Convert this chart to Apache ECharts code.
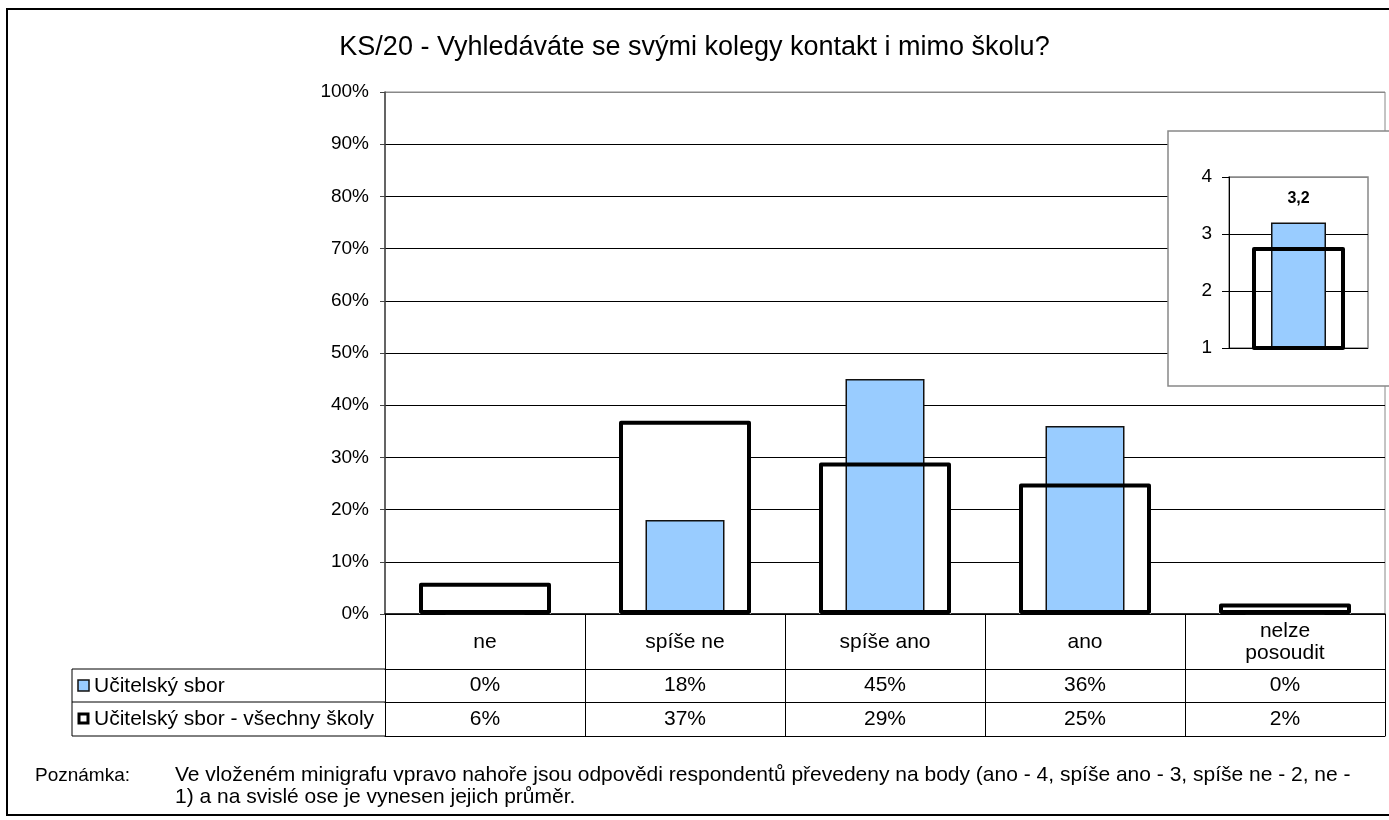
<!DOCTYPE html>
<html>
<head>
<meta charset="utf-8">
<script src="https://cdn.jsdelivr.net/npm/echarts@6/dist/echarts.min.js"></script>
<style>
  html, body { margin: 0; padding: 0; background: #fff; }
  #chart { width: 1389px; height: 820px; }
</style>
</head>
<body>
<div id="chart"></div>
<script>
// data
var categories = ['ne', 'spíše ne', 'spíše ano', 'ano', 'nelze\nposoudit'];
var sborValues = [0, 18, 45, 36, 0];
var vsechnyValues = [6, 37, 29, 25, 2];
var seriesNames = ['Učitelský sbor', 'Učitelský sbor - všechny školy'];
var yTicks = [0, 10, 20, 30, 40, 50, 60, 70, 80, 90, 100];
// minigraf (prumer bodu)
var miniSbor = [3.2];
var miniVsechny = [2.77];

var FONT = "'Liberation Sans', Arial, sans-serif";
var myChart = echarts.init(document.getElementById('chart'));

var splitColors = yTicks.map(function (t, i) { return i === yTicks.length - 1 ? '#888' : '#000'; });

var option = {
    animation: false,
    textStyle: { fontFamily: FONT, color: '#000' },
    title: {
        text: 'KS/20 - Vyhledáváte se svými kolegy kontakt i mimo školu?',
        left: 'center',
        top: 29,
        textStyle: { fontFamily: FONT, fontSize: 27, fontWeight: 'normal', color: '#000' }
    },
    grid: [
        { left: 385, top: 92, width: 1000, height: 522, show: true, borderColor: '#888', borderWidth: 1, backgroundColor: 'transparent' },
        { left: 1229, top: 177, width: 139, height: 171, show: true, borderColor: '#888', borderWidth: 1.5, backgroundColor: 'transparent', z: 5 }
    ],
    xAxis: [
        {
            type: 'category', gridIndex: 0, data: categories, position: 'bottom',
            axisLine: { lineStyle: { color: '#000', width: 1.5 } },
            axisTick: { show: true, interval: 0, length: 122, lineStyle: { color: '#000', width: 1 } },
            axisLabel: { interval: 0, margin: 28, verticalAlign: 'middle', fontSize: 21, lineHeight: 22, color: '#000', fontFamily: FONT },
            splitLine: { show: false }
        },
        {
            type: 'category', gridIndex: 0, data: categories, position: 'bottom', offset: 55,
            axisLine: { lineStyle: { color: '#000', width: 1 } },
            axisTick: { show: false },
            axisLabel: {
                interval: 0, margin: 16, verticalAlign: 'middle', fontSize: 21, color: '#000', fontFamily: FONT,
                formatter: function (v, i) { return sborValues[i] + '%'; }
            }
        },
        {
            type: 'category', gridIndex: 0, data: categories, position: 'bottom', offset: 88,
            axisLine: { lineStyle: { color: '#000', width: 1 } },
            axisTick: { show: false },
            axisLabel: {
                interval: 0, margin: 17, verticalAlign: 'middle', fontSize: 21, color: '#000', fontFamily: FONT,
                formatter: function (v, i) { return vsechnyValues[i] + '%'; }
            }
        },
        {
            type: 'category', gridIndex: 0, data: categories, position: 'bottom', offset: 122,
            axisLine: { lineStyle: { color: '#000', width: 1 } },
            axisTick: { show: false },
            axisLabel: { show: false }
        },
        {
            type: 'category', gridIndex: 1, data: [''],
            axisLine: { show: false }, axisTick: { show: false }, axisLabel: { show: false }, z: 5
        },
        {
            type: 'category', gridIndex: 1, data: [''], position: 'bottom',
            axisLine: { show: false }, axisTick: { show: false }, axisLabel: { show: false }, z: 5
        }
    ],
    yAxis: [
        {
            type: 'value', gridIndex: 0, min: 0, max: 100, interval: 10,
            axisLine: { show: true, lineStyle: { color: '#444', width: 1.5 } },
            axisTick: { show: true, length: 5, lineStyle: { color: '#444' } },
            axisLabel: { formatter: '{value}%', fontSize: 19, margin: 16, color: '#000', fontFamily: FONT },
            splitLine: { show: true, lineStyle: { color: splitColors, width: 1 } }
        },
        {
            type: 'value', gridIndex: 1, min: 1, max: 4, interval: 1, z: 5,
            axisLine: { show: true, lineStyle: { color: '#000', width: 1 } },
            axisTick: { show: true, length: 7, lineStyle: { color: '#000' } },
            axisLabel: { fontSize: 19, margin: 17, color: '#000', fontFamily: FONT },
            splitLine: { show: true, lineStyle: { color: ['#000', '#000', '#000', '#888'], width: 1 } }
        }
    ],
    series: [
        // white fill behind, hides the gridlines
        {
            name: seriesNames[1], type: 'bar', xAxisIndex: 0, yAxisIndex: 0,
            data: vsechnyValues, barWidth: 132, z: 2,
            itemStyle: { color: '#fff' }
        },
        {
            name: seriesNames[0], type: 'bar', xAxisIndex: 1, yAxisIndex: 0,
            data: sborValues, barWidth: 79, z: 3,
            itemStyle: { color: '#99CCFF', borderColor: '#111', borderWidth: 1.5 }
        },
        {
            name: seriesNames[1], type: 'bar', xAxisIndex: 2, yAxisIndex: 0,
            data: vsechnyValues, barWidth: 132, z: 4,
            itemStyle: { color: 'rgba(0,0,0,0)', borderColor: '#000', borderWidth: 4, borderJoin: 'round' }
        },
        {
            name: seriesNames[0], type: 'bar', xAxisIndex: 4, yAxisIndex: 1,
            data: miniSbor, barWidth: 55, z: 6,
            itemStyle: { color: '#99CCFF', borderColor: '#111', borderWidth: 1.5 },
            label: {
                show: true, position: 'top', distance: 16, fontSize: 16, fontWeight: 'bold', color: '#000', fontFamily: FONT,
                formatter: function (p) { return String(p.value).replace('.', ','); }
            }
        },
        {
            name: seriesNames[1], type: 'bar', xAxisIndex: 5, yAxisIndex: 1,
            data: miniVsechny, barWidth: 93, z: 7,
            itemStyle: { color: 'rgba(0,0,0,0)', borderColor: '#000', borderWidth: 4, borderJoin: 'round' }
        }
    ],
    graphic: [
        // outer frame
        { type: 'rect', z: 0, shape: { x: 7, y: 9, width: 1395, height: 806 }, style: { fill: 'none', stroke: '#000', lineWidth: 2 } },
        // inset box
        { type: 'rect', z: 3, shape: { x: 1168, y: 131, width: 240, height: 255 }, style: { fill: '#fff', stroke: '#888', lineWidth: 1.5 } },
        // table, legend column
        { type: 'line', z: 1, shape: { x1: 72, y1: 669, x2: 385, y2: 669 }, style: { stroke: '#000', lineWidth: 1 } },
        { type: 'line', z: 1, shape: { x1: 72, y1: 702, x2: 385, y2: 702 }, style: { stroke: '#000', lineWidth: 1 } },
        { type: 'line', z: 1, shape: { x1: 72, y1: 736, x2: 385, y2: 736 }, style: { stroke: '#000', lineWidth: 1 } },
        { type: 'line', z: 1, shape: { x1: 72, y1: 669, x2: 72, y2: 736 }, style: { stroke: '#000', lineWidth: 1 } },
        { type: 'rect', z: 1, shape: { x: 78, y: 680, width: 11, height: 11 }, style: { fill: '#99CCFF', stroke: '#111', lineWidth: 1.5 } },
        { type: 'rect', z: 1, shape: { x: 79, y: 714, width: 9, height: 9 }, style: { fill: '#fff', stroke: '#000', lineWidth: 3 } },
        { type: 'text', z: 1, x: 94, y: 686, style: { text: seriesNames[0], font: '21px ' + FONT, fill: '#000', verticalAlign: 'middle' } },
        { type: 'text', z: 1, x: 94, y: 719, style: { text: seriesNames[1], font: '21px ' + FONT, fill: '#000', verticalAlign: 'middle' } },
        // note
        { type: 'text', z: 1, x: 35, y: 776, style: { text: 'Poznámka:', font: '19px ' + FONT, fill: '#000', verticalAlign: 'middle' } },
        {
            type: 'text', z: 1, x: 175, y: 764,
            style: {
                text: 'Ve vloženém minigrafu vpravo nahoře jsou odpovědi respondentů převedeny na body (ano - 4, spíše ano - 3, spíše ne - 2, ne -\n1) a na svislé ose je vynesen jejich průměr.',
                font: '21px ' + FONT, fill: '#000', lineHeight: 22, verticalAlign: 'top'
            }
        }
    ]
};
myChart.setOption(option);
</script>
</body>
</html>
